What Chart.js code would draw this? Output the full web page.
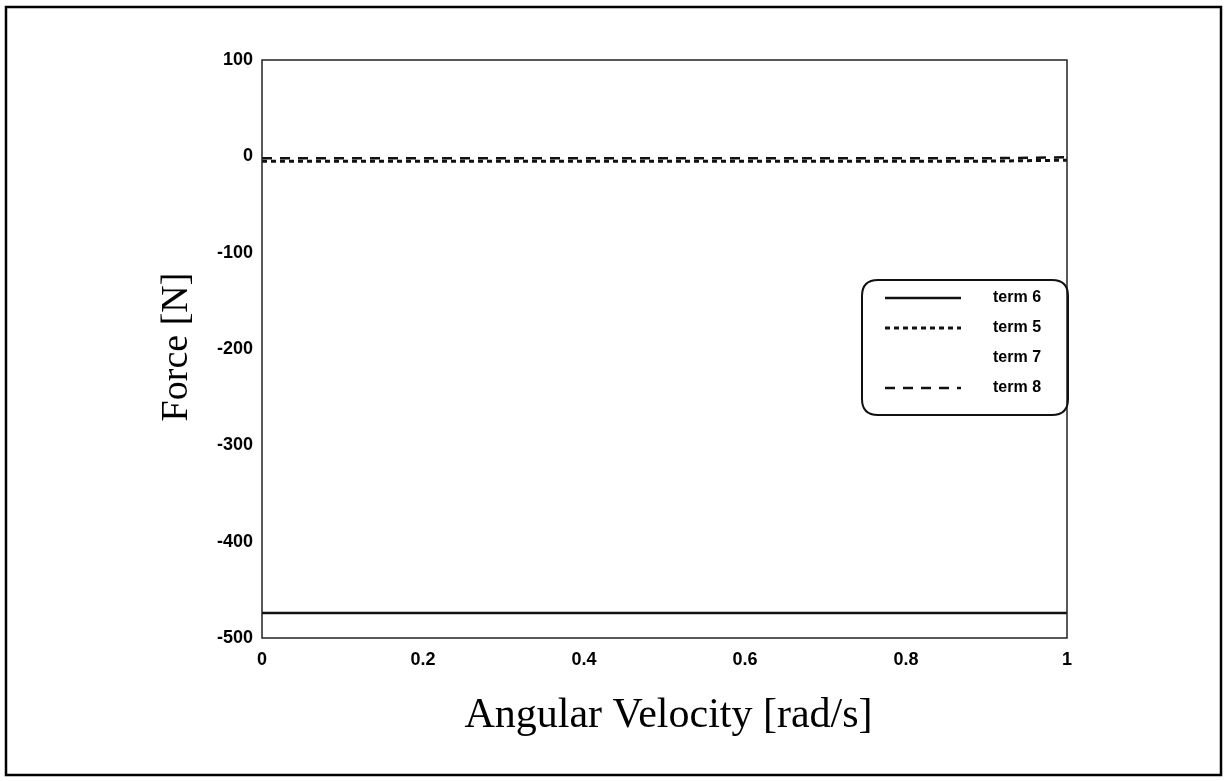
<!DOCTYPE html>
<html>
<head>
<meta charset="utf-8">
<script src="https://cdn.jsdelivr.net/npm/chart.js@4"></script>
<style>
    html, body { margin: 0; padding: 0; background: #ffffff; }
    #wrap { width: 1228px; height: 781px; position: relative; }
</style>
</head>
<body>
<div id="wrap"><canvas id="forceChart"></canvas></div>
<script>

// ================= data ======================
var angularVelocity = [0, 0.1, 0.2, 0.3, 0.4, 0.5, 0.6, 0.7, 0.8, 0.9, 1];
var term6 = [-474, -474, -474, -474, -474, -474, -474, -474, -474, -474, -474];
var term5 = [-5, -5, -5, -5, -5, -5, -5, -5, -5, -5, -4];
var term7 = [0, 0, 0, 0, 0, 0, 0, 0, 0, 0, 0];
var term8 = [-2, -2, -2, -2, -2, -2, -2, -2, -2, -2, -1];
var seriesLabels = ['term 6', 'term 5', 'term 7', 'term 8'];
var xTicks = [0, 0.2, 0.4, 0.6, 0.8, 1];
var yTicks = [100, 0, -100, -200, -300, -400, -500];

function toPoints(ys) {
    return angularVelocity.map(function (x, i) { return { x: x, y: ys[i] }; });
}

var lineStyles = [
    { color: '#111111', dash: [], width: 2.5 },
    { color: '#111111', dash: [5, 4], width: 3 },
    { color: '#ffffff', dash: [], width: 0 },
    { color: '#111111', dash: [10, 8], width: 2.5 }
];

var seriesData = [term6, term5, term7, term8];

var datasets = seriesData.map(function (ys, i) {
    return {
        label: seriesLabels[i],
        data: toPoints(ys),
        borderColor: lineStyles[i].color,
        borderDash: lineStyles[i].dash,
        borderWidth: lineStyles[i].width,
        pointRadius: 0,
        fill: false,
        tension: 0,
        order: i === 2 ? 10 : i
    };
});

// ================= frame, titles and legend ======================
var decorPlugin = {
    id: 'decor',
    afterDraw: function (chart) {
        var ctx = chart.ctx;
        var a = chart.chartArea;
        ctx.save();

        // outer frame
        ctx.strokeStyle = '#000000';
        ctx.lineWidth = 2.5;
        ctx.strokeRect(6, 7, 1215, 768);

        // plot box
        ctx.lineWidth = 1.5;
        ctx.strokeStyle = '#222222';
        ctx.strokeRect(a.left, a.top, a.right - a.left, a.bottom - a.top);

        // axis titles
        ctx.fillStyle = '#000000';
        ctx.font = '42px "Liberation Serif", "DejaVu Serif", serif';
        ctx.textAlign = 'center';
        ctx.textBaseline = 'middle';
        ctx.fillText('Angular Velocity [rad/s]', (a.left + a.right) / 2 + 4, 716);

        ctx.font = '38px "Liberation Serif", "DejaVu Serif", serif';
        ctx.save();
        ctx.translate(177, 347);
        ctx.rotate(-Math.PI / 2);
        ctx.fillText('Force [N]', 0, 0);
        ctx.restore();

        // legend box
        var bx = 862, by = 280, bw = 206, bh = 135, r = 16;
        ctx.lineWidth = 2;
        ctx.strokeStyle = '#111111';
        ctx.beginPath();
        ctx.moveTo(bx + r, by);
        ctx.lineTo(bx + bw - r, by);
        ctx.quadraticCurveTo(bx + bw, by, bx + bw, by + r);
        ctx.lineTo(bx + bw, by + bh - r);
        ctx.quadraticCurveTo(bx + bw, by + bh, bx + bw - r, by + bh);
        ctx.lineTo(bx + r, by + bh);
        ctx.quadraticCurveTo(bx, by + bh, bx, by + bh - r);
        ctx.lineTo(bx, by + r);
        ctx.quadraticCurveTo(bx, by, bx + r, by);
        ctx.stroke();

        ctx.font = 'bold 16px "Liberation Sans Narrow", "Liberation Sans", sans-serif';
        ctx.textAlign = 'left';
        var rowY = [298, 328, 358, 388];
        chart.data.datasets.forEach(function (ds, i) {
            var y = rowY[i];
            if (ds.borderWidth > 0) {
                ctx.beginPath();
                ctx.setLineDash(ds.borderDash);
                ctx.lineWidth = ds.borderWidth;
                ctx.strokeStyle = ds.borderColor;
                ctx.moveTo(885, y);
                ctx.lineTo(961, y);
                ctx.stroke();
                ctx.setLineDash([]);
            }
            ctx.fillStyle = '#000000';
            ctx.fillText(ds.label, 993, y);
        });

        ctx.restore();
    }
};

var tickFont = { family: '"Liberation Sans", Arial, sans-serif', size: 18, weight: 'bold' };

var forceChart = new Chart(document.getElementById('forceChart').getContext('2d'), {
    type: 'line',
    data: { datasets: datasets },
    options: {
        responsive: true,
        maintainAspectRatio: false,
        animation: false,
        layout: { padding: { left: 0, right: 161, top: 60, bottom: 0 } },
        plugins: {
            legend: { display: false },
            tooltip: { enabled: false }
        },
        scales: {
            x: {
                type: 'linear',
                min: 0,
                max: 1,
                afterFit: function (scale) { scale.height = 143; },
                afterBuildTicks: function (scale) {
                    scale.ticks = xTicks.map(function (v) { return { value: v }; });
                },
                grid: { display: false, drawTicks: false },
                border: { display: false },
                ticks: {
                    color: '#000000',
                    font: tickFont,
                    padding: 11,
                    maxRotation: 0,
                    callback: function (v) { return String(Math.round(v * 10) / 10); }
                }
            },
            y: {
                min: -500,
                max: 100,
                afterFit: function (scale) { scale.width = 262; },
                afterBuildTicks: function (scale) {
                    scale.ticks = yTicks.map(function (v) { return { value: v }; });
                },
                grid: { display: false, drawTicks: false },
                border: { display: false },
                ticks: {
                    color: '#000000',
                    font: tickFont,
                    padding: 9,
                    callback: function (v) { return String(v); }
                }
            }
        }
    },
    plugins: [decorPlugin]
});
</script>
</body>
</html>
